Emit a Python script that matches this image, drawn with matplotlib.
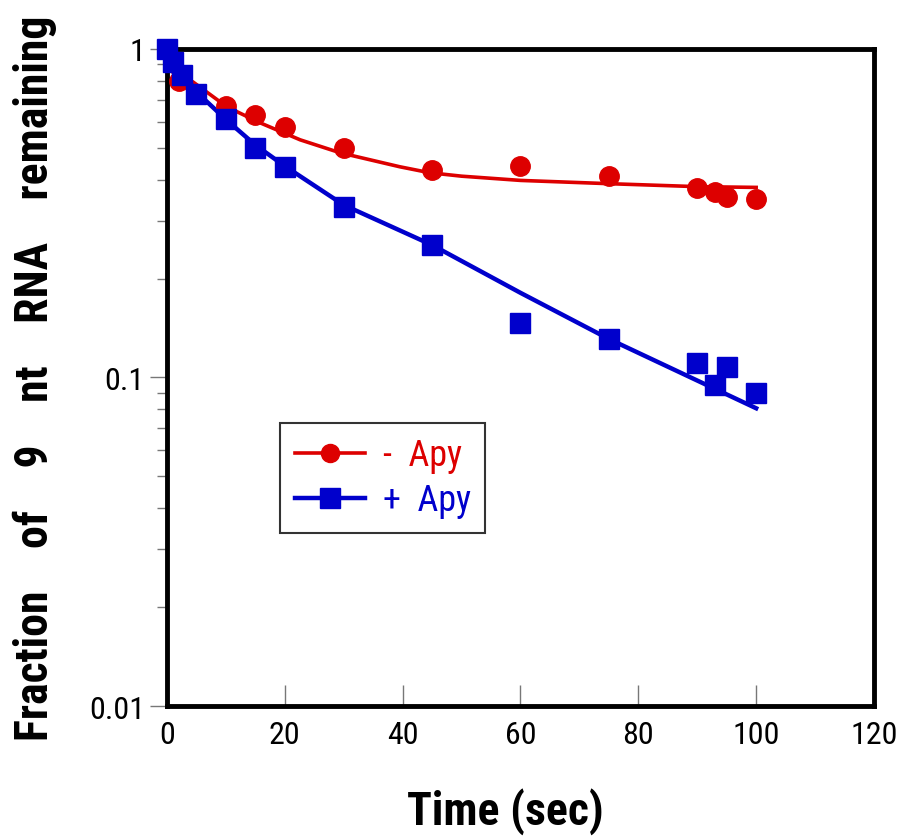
import matplotlib
matplotlib.use("Agg")
import matplotlib.pyplot as plt
from matplotlib import font_manager as fm
from matplotlib.ticker import FixedLocator, NullFormatter
from matplotlib.lines import Line2D

# ---- data ----
t_minus = [0, 2, 10, 15, 20, 30, 45, 60, 75, 90, 93, 95, 100]
y_minus = [1.0, 0.80, 0.67, 0.63, 0.58, 0.50, 0.427, 0.44, 0.41, 0.377, 0.366, 0.354, 0.349]

t_plus = [0, 1, 2.5, 5, 10, 15, 20, 30, 45, 60, 75, 90, 93, 95, 100]
y_plus = [1.0, 0.91, 0.834, 0.73, 0.61, 0.50, 0.436, 0.33, 0.253, 0.147, 0.131, 0.111, 0.0946, 0.108, 0.090]

# fitted curves
fit_t_minus = [0, 2, 4.4, 10.2, 15.8, 22.6, 29.4, 39.5, 44.6, 50, 60, 75, 90, 100]
fit_y_minus = [0.87, 0.83, 0.794, 0.666, 0.596, 0.529, 0.483, 0.438, 0.420, 0.410, 0.398, 0.389, 0.381, 0.379]

fit_t_plus = [0, 5, 10, 15, 20, 30, 45, 60, 75, 100]
fit_y_plus = [1.0, 0.74, 0.61, 0.51, 0.44, 0.335, 0.253, 0.181, 0.131, 0.0806]

x_ticks = [0, 20, 40, 60, 80, 100, 120]
y_ticks = [0.01, 0.1, 1]
y_tick_labels = ["0.01", "0.1", "1"]

RED = "#dd0000"
BLUE = "#0000cc"


def find_narrow(bold):
    prefs = ["Liberation Sans Narrow", "Arial Narrow", "Roboto Condensed",
             "Open Sans Condensed", "DejaVu Sans Condensed", "Noto Sans Condensed"]
    cands = []
    for f in fm.fontManager.ttflist:
        nm = (f.name + " " + f.fname).lower()
        if ("narrow" in nm or "condensed" in nm or str(f.stretch) in ("condensed", "semi-condensed")) \
                and "mono" not in nm and "italic" not in nm and "oblique" not in nm \
                and "serif" not in f.name.lower():
            w = f.weight if isinstance(f.weight, int) else (700 if "bold" in str(f.weight) else 400)
            isbold = w >= 600 or "bold" in nm
            if isbold == bold:
                score = 99
                for i, p in enumerate(prefs):
                    if p.lower() in nm or p.lower().replace(" ", "") in nm:
                        score = i
                        break
                cands.append((score, f.fname))
    cands.sort()
    return cands[0][1] if cands else None


reg_file = find_narrow(False)
bold_file = find_narrow(True)


def fp(size, bold=False):
    f = bold_file if bold else reg_file
    if f:
        return fm.FontProperties(fname=f, size=size)
    return fm.FontProperties(family=["Liberation Sans", "DejaVu Sans"], size=size,
                             weight="bold" if bold else "normal")


narrow = reg_file is not None
tick_size = 23 if narrow else 21
lab_size = 33 if narrow else 29
leg_size = 26 if narrow else 22

fig = plt.figure(figsize=(9.09, 8.37), dpi=100)
ax = fig.add_axes([0.1837, 0.1553, 0.7778, 0.785])

ax.plot(fit_t_minus, fit_y_minus, color=RED, lw=2.6, zorder=2)
ax.plot(fit_t_plus, fit_y_plus, color=BLUE, lw=3.2, zorder=2)
ax.plot(t_minus, y_minus, "o", color=RED, ms=14, mec=RED, zorder=5, clip_on=False)
ax.plot(t_plus, y_plus, "s", color=BLUE, ms=14, mec=BLUE, zorder=6, clip_on=False)

ax.set_yscale("log")
ax.set_xlim(0, 120)
ax.set_ylim(0.01, 1)

ax.xaxis.set_major_locator(FixedLocator(x_ticks))
ax.set_xticklabels([str(v) for v in x_ticks])
ax.yaxis.set_major_locator(FixedLocator(y_ticks))
ax.set_yticklabels(y_tick_labels)
minor = [m * 10.0 ** e for e in (-2, -1) for m in range(2, 10)]
ax.yaxis.set_minor_locator(FixedLocator(minor))
ax.yaxis.set_minor_formatter(NullFormatter())

ax.tick_params(axis="x", direction="in", length=15, width=1.0, color="#777777",
               pad=10, top=False)
ax.tick_params(axis="y", which="major", direction="out", length=12, width=1.0,
               color="#777777", pad=4, right=False)
ax.tick_params(axis="y", which="minor", direction="out", length=7, width=1.0,
               color="#777777", right=False)
for lab in ax.get_xticklabels() + ax.get_yticklabels():
    lab.set_fontproperties(fp(tick_size))

for s in ax.spines.values():
    s.set_linewidth(3.5)
    s.set_color("black")

ax.set_xlabel("Time (sec)", fontproperties=fp(lab_size, True))
ax.xaxis.set_label_coords(0.479, -0.124)
ax.set_ylabel("Fraction    of    9    nt    RNA    remaining",
              fontproperties=fp(lab_size, True))
ax.yaxis.set_label_coords(-0.155, 0.5)

h1 = Line2D([], [], color=RED, lw=2.6, marker="o", ms=13)
h2 = Line2D([], [], color=BLUE, lw=3.2, marker="s", ms=15)
leg = ax.legend([h1, h2], ["-  Apy", "+  Apy"], loc="upper left",
                bbox_to_anchor=(0.160, 0.431), borderaxespad=0, frameon=True,
                fancybox=False, handlelength=1.95, handletextpad=0.5, borderpad=0.4,
                labelspacing=0.25, prop=fp(leg_size))
leg.get_frame().set_edgecolor("black")
leg.get_frame().set_linewidth(1.5)
for txt, c in zip(leg.get_texts(), [RED, BLUE]):
    txt.set_color(c)

fig.savefig("out.png", dpi=100)
